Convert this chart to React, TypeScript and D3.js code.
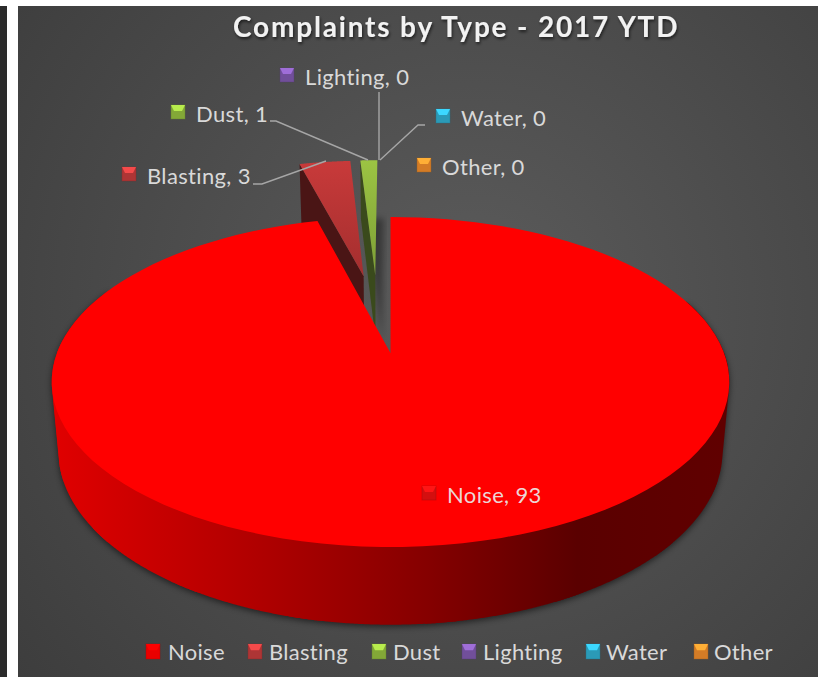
import * as d3 from "d3";

const categories = ["Noise", "Blasting", "Dust", "Lighting", "Water", "Other"];
const values = [93, 3, 1, 0, 0, 0];
const colors = ["#ff0000", "#be3a3a", "#8fb83c", "#7c56a8", "#2fa8c8", "#e8882a"];
const title = "Complaints by Type - 2017 YTD";

// where the labels and legend entries sit, same order as categories
const labelX = [447, 147, 196, 305, 461, 442];
const labelY = [503, 184, 122, 85, 126, 175];
const legendKeyX = [146, 248, 372, 462, 586, 694];
const legendTextX = [168, 269, 393, 483, 606, 714];

// leader lines: Blasting, Dust, Lighting, Water
const leaders = [
  [[253, 184], [262, 184], [326, 161]],
  [[270, 121], [276, 121], [368, 160]],
  [[379, 92], [379, 160]],
  [[425, 125], [418, 125], [380, 160]]
];

const width = 818;
const height = 677;

// fake 3D: unit circle in the pie plane pushed through a small perspective
const centerX = 390.5;
const centerY = 353;
const scaleX = 333.5;
const scaleY = 159.9;
const persp = 0.1758;

type Offset = [number, number];
const explode: Offset[] = [[0, 0], [-0.088, -0.525], [-0.05, -0.53], [0, 0], [0, 0], [0, 0]];

const project = (u: number, v: number, bottom = false): [number, number] => {
  const w = 1 - persp * v;
  const x = (scaleX * u) / w;
  const y = (scaleY * v) / w;
  return bottom
    ? [centerX + x * 0.98, centerY + y * 1.05 + 68]
    : [centerX + x, centerY + y];
};

const pieData = d3.pie<number>().sort(null)(values);
const line = d3.line();

const rim = (a0: number, a1: number, off: Offset, bottom = false) =>
  d3.range(0, 121).map(i => {
    const a = a0 + ((a1 - a0) * i) / 120;
    return project(off[0] + Math.sin(a), off[1] - Math.cos(a), bottom);
  });

const face = (i: number, bottom = false) => {
  const off = explode[i];
  const p = pieData[i];
  return line([
    project(off[0], off[1], bottom),
    ...rim(p.startAngle, p.endAngle, off, bottom)
  ]) + "Z";
};

// wall along the start edge of an exploded slice
const startWall = (i: number) => {
  const off = explode[i];
  const a = pieData[i].startAngle;
  const ou = off[0] + Math.sin(a);
  const ov = off[1] - Math.cos(a);
  return line([
    project(off[0], off[1]),
    project(ou, ov),
    project(ou, ov, true),
    project(off[0], off[1], true)
  ]) + "Z";
};

// outer wall of the big slice, built from small overlapping hulls so the
// silhouette stays tangent at the far left and right
const rad = Math.PI / 180;
const wallPieces = d3.range(70, 290, 20).map(deg => {
  const top = rim(deg * rad, (deg + 25) * rad, [0, 0]);
  const bot = rim(deg * rad, (deg + 25) * rad, [0, 0], true);
  return line(d3.polygonHull([...top, ...bot]) as [number, number][]) + "Z";
});
const wallPath = wallPieces.join("");

const Key = ({ x, y, w, h, color }: { x: number; y: number; w: number; h: number; color: string }) => {
  const base = d3.color(color)!;
  return (
    <g>
      <rect x={x} y={y} width={w} height={h} fill={base.darker(0.25).toString()} stroke={base.darker(1).toString()} strokeOpacity={0.5} strokeWidth={0.8} />
      <polygon
        points={`${x},${y} ${x + w},${y} ${x + w - 3},${y + h * 0.42} ${x + 3},${y + h * 0.42}`}
        fill={base.brighter(0.7).toString()}
      />
    </g>
  );
};

const App = () => {
  const font = "Lato, Carlito, sans-serif";
  return (
    <svg
      width={width}
      height={height}
      style={{ position: "absolute", left: 0, top: 0, display: "block", background: "#fff" }}
      fontFamily={font}
    >
      <defs>
        <radialGradient id="bg" gradientUnits="userSpaceOnUse" cx={470} cy={310} r={620}>
          <stop offset="0" stopColor="#5c5c5c" />
          <stop offset="1" stopColor="#3b3b3b" />
        </radialGradient>
        <linearGradient id="wall" gradientUnits="userSpaceOnUse" x1={55} x2={725} y1={0} y2={0}>
          <stop offset="0" stopColor="#e00000" />
          <stop offset="0.35" stopColor="#a80000" />
          <stop offset="0.55" stopColor="#860000" />
          <stop offset="0.78" stopColor="#5a0000" />
          <stop offset="1" stopColor="#600000" />
        </linearGradient>
        <linearGradient id="blastTop" x1="0" x2="0" y1="0" y2="1">
          <stop offset="0" stopColor="#c83a3a" />
          <stop offset="1" stopColor="#a42e2e" />
        </linearGradient>
        <linearGradient id="dustTop" x1="0" x2="0" y1="0" y2="1">
          <stop offset="0" stopColor="#9cc443" />
          <stop offset="1" stopColor="#7d9f36" />
        </linearGradient>
        <filter id="blur" x="-20%" y="-20%" width="140%" height="140%">
          <feGaussianBlur stdDeviation="3" />
        </filter>
        <filter id="titleShadow" x="-5%" y="-30%" width="110%" height="170%">
          <feDropShadow dx="1" dy="2" stdDeviation="1.5" floodColor="#000" floodOpacity="0.6" />
        </filter>
      </defs>

      <rect x={0} y={6} width={7} height={height - 6} fill="#2b2b2b" />
      <rect x={18} y={6} width={width - 18} height={height - 6} fill="url(#bg)" />

      <text x={233} y={37} fontSize={28} fontWeight={700} letterSpacing={1.82} fill="#f2f2f2" filter="url(#titleShadow)">
        {title}
      </text>

      {/* shadows */}
      <path d={wallPath} fill="#000" opacity={0.55} filter="url(#blur)" transform="translate(0,2)" />
      <path d={face(2, true)} fill="#000" opacity={0.35} filter="url(#blur)" transform="translate(6,0)" />

      {/* exploded slices */}
      <path d={startWall(1)} fill="#4a1515" />
      <path d={face(1)} fill="url(#blastTop)" />
      <path d={startWall(2)} fill="#3a4a1c" />
      <path d={face(2)} fill="url(#dustTop)" />

      {/* main slice */}
      {wallPieces.map((d, i) => (
        <path key={i} d={d} fill="url(#wall)" />
      ))}
      <path d={face(0)} fill={colors[0]} />

      {leaders.map((pts, i) => (
        <path key={i} d={line(pts as [number, number][]) ?? ""} fill="none" stroke="#a6a6a6" strokeWidth={1.4} />
      ))}

      {categories.map((c, i) => (
        <g key={c}>
          <Key x={labelX[i] - 25} y={labelY[i] - 17} w={14} h={14} color={i === 0 ? "#e81010" : colors[i]} />
          <text x={labelX[i]} y={labelY[i]} fontSize={22} letterSpacing={0.35} fill={i === 0 ? "#ecd6d6" : "#d9d9d9"}>
            {`${c}, ${values[i]}`}
          </text>
          <Key x={legendKeyX[i]} y={644} w={14} h={15} color={colors[i]} />
          <text x={legendTextX[i]} y={660} fontSize={22} letterSpacing={0.3} fill="#d9d9d9">
            {c}
          </text>
        </g>
      ))}
    </svg>
  );
};

export default App;
